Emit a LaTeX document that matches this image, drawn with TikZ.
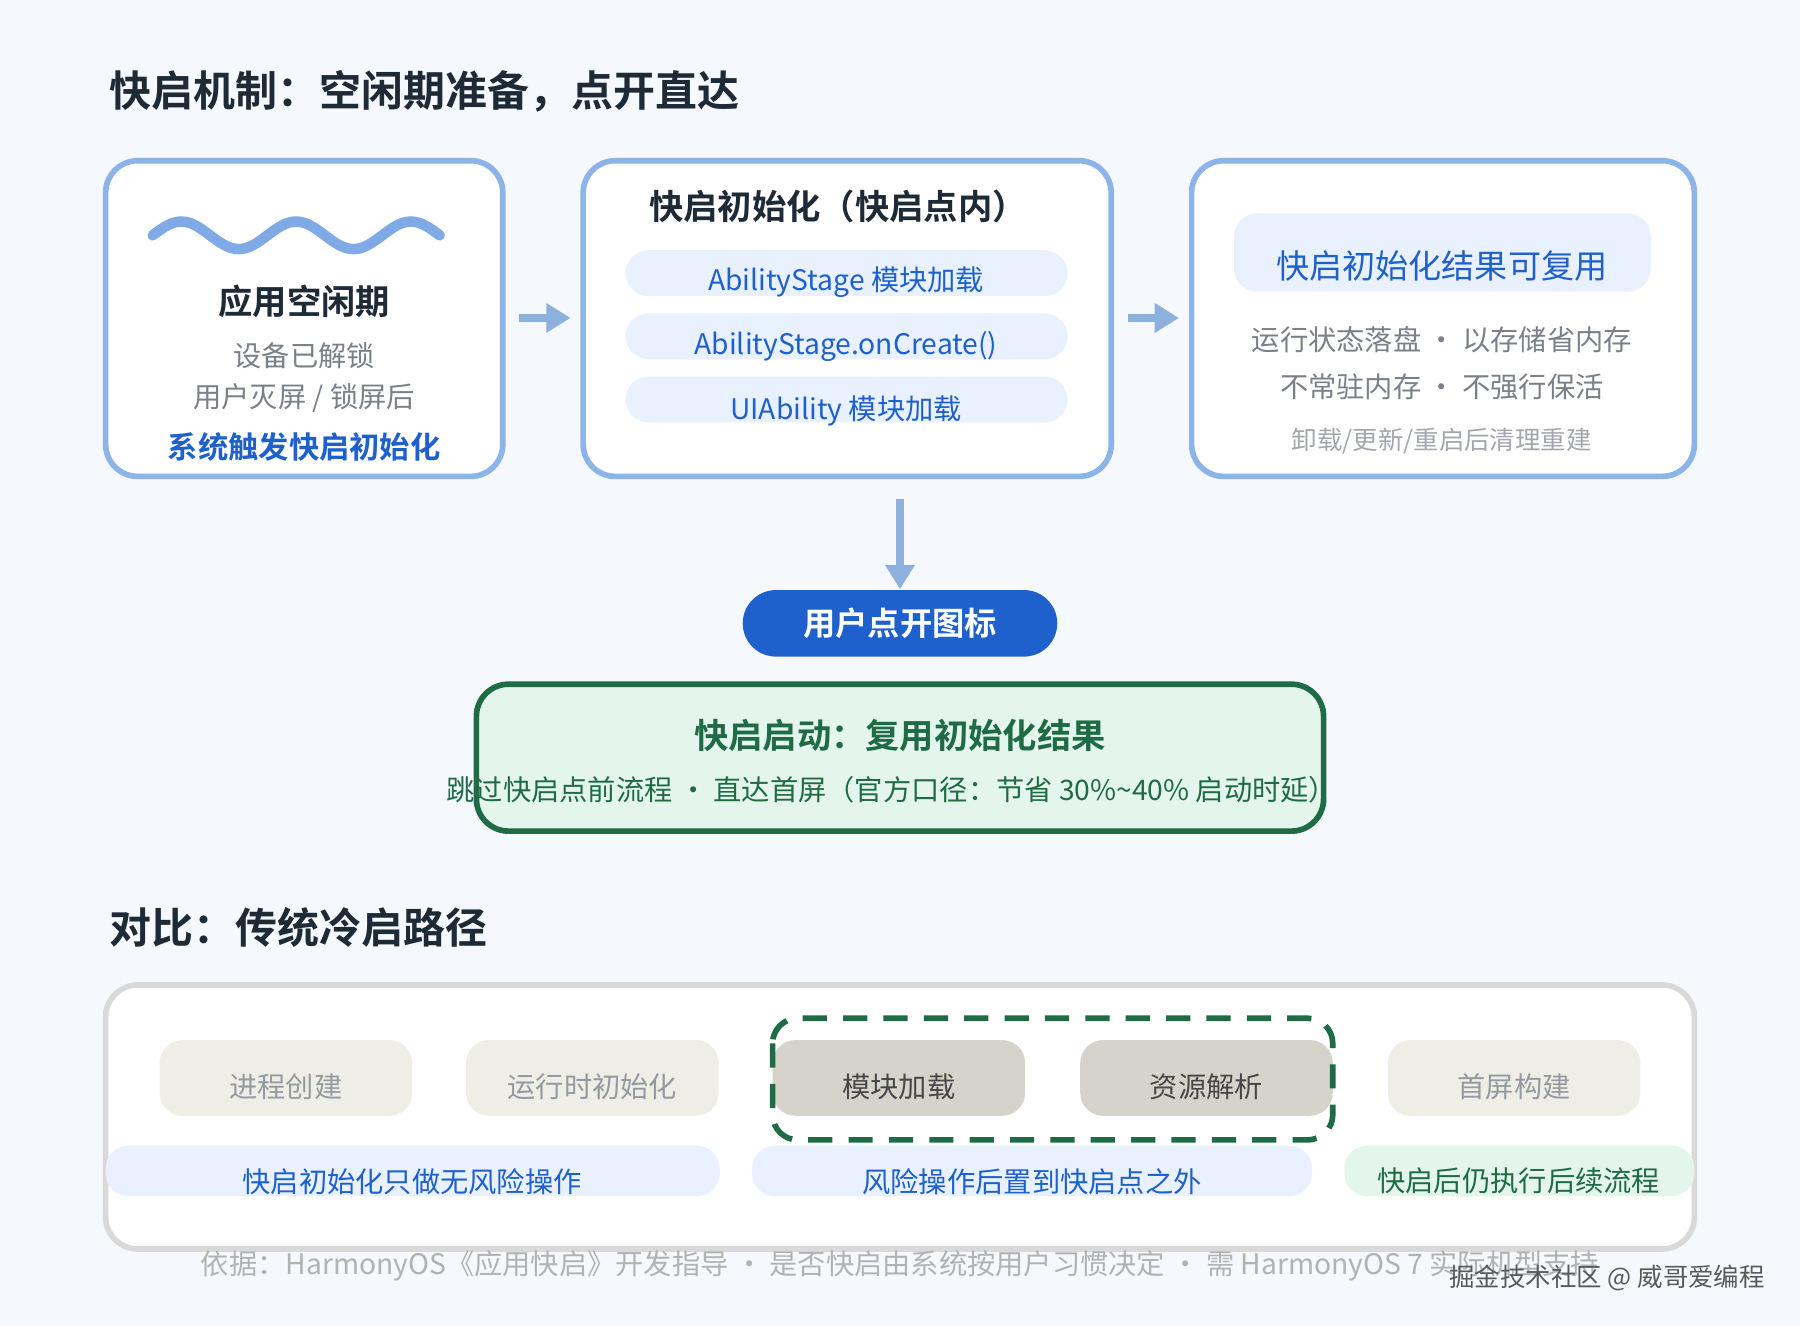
\documentclass[tikz,border=0pt]{standalone}
\usepackage{fontspec}
\setmainfont{Noto Sans CJK SC}[BoldFont={Noto Sans CJK SC Bold}]
\usetikzlibrary{arrows.meta,positioning}
\definecolor{bg}{HTML}{F5F9FD}
\definecolor{ink}{HTML}{1F2A37}
\definecolor{frame}{HTML}{8DB4E8}
\definecolor{wave}{HTML}{7FAAE6}
\definecolor{blue}{HTML}{1E60CC}
\definecolor{pill}{HTML}{E8F1FD}
\definecolor{grey}{HTML}{7B8088}
\definecolor{arrowc}{HTML}{8DB0DC}
\definecolor{green}{HTML}{1E6B45}
\definecolor{greenfill}{HTML}{E4F5EB}
\definecolor{stone}{HTML}{EEEEE6}
\definecolor{stonedark}{HTML}{D6D4CA}
\tikzset{
    %Define standard arrow tip
    >={Triangle[length=6pt,width=7pt]},
    card/.style={draw=frame, line width=1.4pt, fill=white, rounded corners=28*0.01cm},
    lbl/.style={inner sep=0pt, font=\fontsize{7}{8}\selectfont},
    head/.style={inner sep=0pt, font=\fontsize{8.5}{10}\selectfont\bfseries, text=ink},
    pill/.style={fill=pill, rounded corners=20*0.01cm},
    stepbox/.style={fill=stone, rounded corners=20*0.01cm},
    flow/.style={->, draw=arrowc, line width=2pt}
}
\begin{document}
\begin{tikzpicture}[x=0.01cm,y=-0.01cm]
    \fill[bg] (0,0) rectangle (1568,1155);
    \useasboundingbox (0,0) rectangle (1568,1155);
    \node[anchor=west, inner sep=0pt, font=\fontsize{10.4}{12}\selectfont\bfseries, text=ink] (title) at (95,80) {快启机制：空闲期准备，点开直达};

    % idle card
    \draw[card] (92,140) rectangle (438,415);
    \coordinate (idleE) at (452,277);
    \draw[wave, line width=2.6pt, line cap=round] (133,205) sin (158,193) cos (183,205) sin (208,217) cos (233,205) sin (258,193) cos (283,205) sin (308,217) cos (333,205) sin (358,193) cos (383,205) ;
    \node[head] (idle) at (265,263) {应用空闲期};
    \node[lbl, text=grey] (idle1) at (265,310) {设备已解锁};
    \node[lbl, text=grey] (idle2) at (265,347) {用户灭屏 / 锁屏后};
    \node[lbl, text=blue, font=\fontsize{7.5}{9}\selectfont\bfseries] (idle3) at (265,389) {系统触发快启初始化};

    % init card
    \draw[card] (508,140) rectangle (968,415);
    \coordinate (initW) at (497,277);
    \coordinate (initE) at (983,277);
    \coordinate (initS) at (784,435);
    \node[head] (init) at (730,180) {快启初始化（快启点内）};
    \fill[pill] (545,218) rectangle (930,258);
    \fill[pill] (545,273) rectangle (930,313);
    \fill[pill] (545,328) rectangle (930,368);
    \node[lbl, text=blue] (stage) at (737,246) {AbilityStage 模块加载};
    \node[lbl, text=blue] (create) at (737,302) {AbilityStage.onCreate()};
    \node[lbl, text=blue] (ui) at (737,358) {UIAbility 模块加载};

    % reuse card
    \draw[card] (1038,140) rectangle (1476,415);
    \coordinate (reuseW) at (1027,277);
    \fill[pill] (1075,186) rectangle (1438,254);
    \node[lbl, text=blue, font=\fontsize{8.2}{10}\selectfont] (reuse) at (1256,232) {快启初始化结果可复用};
    \node[lbl, text=grey] (reuse1) at (1256,296) {运行状态落盘 · 以存储省内存};
    \node[lbl, text=grey] (reuse2) at (1256,337) {不常驻内存 · 不强行保活};
    \node[lbl, text=grey!70, font=\fontsize{6.3}{8}\selectfont] (reuse3) at (1256,384) {卸载/更新/重启后清理重建};

    \draw[flow] (idleE) -- (initW);
    \draw[flow] (initE) -- (reuseW);

    % tap
    \node[fill=blue, rounded corners=29*0.01cm, minimum width=274*0.01cm, minimum height=58*0.01cm, text=white, font=\fontsize{8}{10}\selectfont\bfseries] (tap) at (784,543) {\raisebox{-4pt}{用户点开图标}};
    \draw[flow] (initS) -- (tap.north);

    % fast start
    \draw[draw=green, line width=1.4pt, fill=greenfill, rounded corners=28*0.01cm] (415,596) rectangle (1153,724);
    \node[head, text=green] (fast) at (784,641) {快启启动：复用初始化结果};
    \node[lbl, text=green] (fast1) at (777,688) {跳过快启点前流程 · 直达首屏（官方口径：节省 30\%\textasciitilde40\% 启动时延）};

    % cold path
    \node[anchor=west, inner sep=0pt, font=\fontsize{10.4}{12}\selectfont\bfseries, text=ink] (cold) at (95,808) {对比：传统冷启路径};
    \draw[draw=black!15, line width=1.4pt, fill=white, rounded corners=28*0.01cm] (92,858) rectangle (1476,1088);
    \fill[stepbox] (139,906) rectangle (359,972);
    \fill[stepbox] (406,906) rectangle (626,972);
    \fill[stepbox, fill=stonedark] (673,906) rectangle (893,972);
    \fill[stepbox, fill=stonedark] (941,906) rectangle (1161,972);
    \fill[stepbox] (1209,906) rectangle (1429,972);
    \draw[green, line width=1.4pt, dash pattern=on 6pt off 4pt, rounded corners=22*0.01cm] (673,887) rectangle (1161,993);
    \node[lbl, text=grey!80] (proc) at (249,947) {进程创建};
    \node[lbl, text=grey!80] (rt) at (516,947) {运行时初始化};
    \node[lbl, text=black!72] (mod) at (783,947) {模块加载};
    \node[lbl, text=black!72] (res) at (1051,947) {资源解析};
    \node[lbl, text=grey!80] (scr) at (1319,947) {首屏构建};

    \fill[pill] (92,998) rectangle (627,1042);
    \fill[pill] (655,998) rectangle (1143,1042);
    \fill[pill, fill=greenfill] (1171,998) rectangle (1476,1042);
    \node[lbl, text=blue] (safe) at (359,1029) {快启初始化只做无风险操作};
    \node[lbl, text=blue] (risk) at (899,1029) {风险操作后置到快启点之外};
    \node[lbl, text=green] (after) at (1323,1029) {快启后仍执行后续流程};

    \node[lbl, text=black!30] (note) at (784,1103) {依据：HarmonyOS《应用快启》开发指导 · 是否快启由系统按用户习惯决定 · 需 HarmonyOS 7 实际机型支持};
    \node[anchor=east, inner sep=0pt, text=black!65, font=\fontsize{6.3}{8}\selectfont] (mark) at (1538,1113) {掘金技术社区 @ 威哥爱编程};
\end{tikzpicture}
\end{document}
